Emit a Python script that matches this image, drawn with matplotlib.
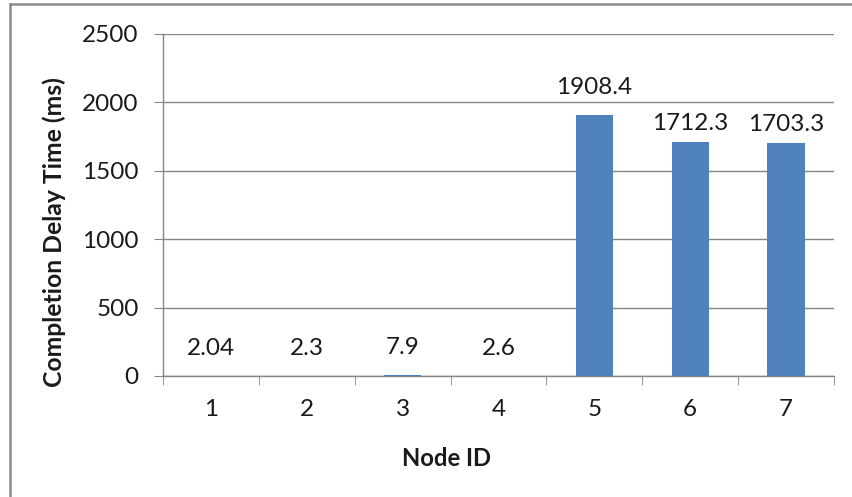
import matplotlib
matplotlib.use("Agg")
import matplotlib.pyplot as plt
from matplotlib.lines import Line2D
import numpy as np

categories = ["1", "2", "3", "4", "5", "6", "7"]
values = [2.04, 2.3, 7.9, 2.6, 1908.4, 1712.3, 1703.3]
labels = ["2.04", "2.3", "7.9", "2.6", "1908.4", "1712.3", "1703.3"]
yticks = [0, 500, 1000, 1500, 2000, 2500]

label_offsets = [19.5, 19.5, 19.5, 19.5, 19.5, 13.5, 13]  # points above bar top

plt.rcParams['font.family'] = ['Lato', 'DejaVu Sans']
fig = plt.figure(figsize=(8.52, 4.97), dpi=100)
W, H = 852, 497
fig.lines.append(Line2D([10/W, 10/W], [0, 1-4/H], transform=fig.transFigure, color='#8c8c8c', linewidth=1.8))
fig.lines.append(Line2D([10/W, 1], [1-4/H, 1-4/H], transform=fig.transFigure, color='#8c8c8c', linewidth=1.8))
ax = fig.add_axes([163/W, 1-376/H, (834-163)/W, (376-34)/H])

FS = 17.5
x = np.arange(len(categories))
ax.bar(x, values, width=0.39, color='#4f81bd', zorder=3)
for xi, v, lab, off in zip(x, values, labels, label_offsets):
    ax.annotate(lab, (xi, v), xytext=(0, off), textcoords='offset points',
                ha='center', va='center', fontsize=FS, color='#1a1a1a')

ax.set_xlim(-0.5, len(categories) - 0.5)
ax.set_ylim(0, 2500)
ax.set_yticks(yticks)
ax.set_yticklabels([str(t) for t in yticks], fontsize=FS, color='#1a1a1a')
ax.set_xticks(x)
ax.set_xticklabels(categories, fontsize=FS, color='#1a1a1a')
ax.set_xticks(np.arange(len(categories) + 1) - 0.5, minor=True)
ax.tick_params(axis='x', which='major', length=0, pad=16.5)
ax.tick_params(axis='x', which='minor', length=6.5, color='#868686', direction='out')
ax.tick_params(axis='y', length=6.5, color='#868686', direction='out', pad=11)
ax.grid(axis='y', color='#868686', linewidth=1, zorder=0)
for s in ['top', 'right']:
    ax.spines[s].set_visible(False)
for s in ['left', 'bottom']:
    ax.spines[s].set_color('#868686')
    ax.spines[s].set_linewidth(1)

ax.set_ylabel('Completion Delay Time (ms)', fontsize=17.8, fontweight='bold', color='#1a1a1a')
ax.set_xlabel('Node ID', fontsize=17.2, fontweight='bold', color='#1a1a1a')
ax.yaxis.set_label_coords((54-163)/671, (376-232)/342)
ax.xaxis.set_label_coords((447-163)/671, (376-458)/342)
ax.xaxis.label.set_va('center')
ax.yaxis.label.set_va('center')

fig.savefig('out.png', dpi=100, facecolor='white')
